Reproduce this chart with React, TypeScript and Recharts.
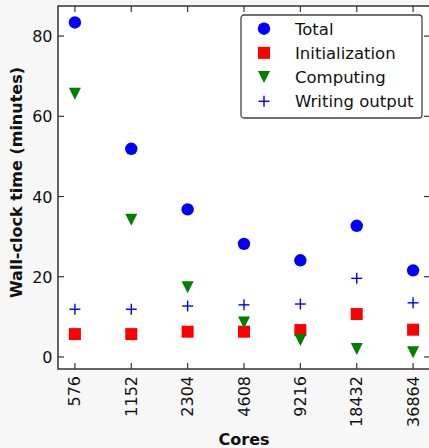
import React from 'react'
import { ComposedChart, Label, Legend, Line, ReferenceArea, XAxis, YAxis } from 'recharts'

const cores = ['576', '1152', '2304', '4608', '9216', '18432', '36864']
const total = [83.4, 51.9, 36.8, 28.2, 24.1, 32.7, 21.6]
const initialization = [5.7, 5.7, 6.3, 6.3, 6.7, 10.7, 6.8]
const computing = [65.6, 34.2, 17.4, 8.6, 4.2, 2.0, 1.2]
const writingOutput = [11.9, 11.9, 12.7, 13.0, 13.2, 19.6, 13.5]
const yTicks = [0, 20, 40, 60, 80]
const xTicks = cores.map((_, i) => i)

const data = cores.map((c, i) => ({
  idx: i,
  cores: c,
  total: total[i],
  initialization: initialization[i],
  computing: computing[i],
  writing: writingOutput[i],
}))

const series = [
  { key: 'total', name: 'Total', kind: 'circle' },
  { key: 'initialization', name: 'Initialization', kind: 'square' },
  { key: 'computing', name: 'Computing', kind: 'triangle' },
  { key: 'writing', name: 'Writing output', kind: 'plus' },
]

const FONT = 'DejaVu Sans, sans-serif'
const AXIS = '#333'
const PLOT_LEFT = 58
const PLOT_RIGHT = 430
const PLOT_TOP = 6
const PLOT_BOTTOM = 369
const X_DOMAIN: [number, number] = [-0.3, 6.3]
const Y_DOMAIN: [number, number] = [-3, 87.5]

function Marker({ kind, cx, cy }: { kind: string; cx: number; cy: number }) {
  if (kind === 'circle') return <circle cx={cx} cy={cy} r={6.2} fill="#0000ff" />
  if (kind === 'square')
    return <rect x={cx - 6} y={cy - 6} width={12} height={12} fill="#ff0000" />
  if (kind === 'triangle')
    return (
      <polygon
        points={`${cx - 6},${cy - 6} ${cx + 6},${cy - 6} ${cx},${cy + 6}`}
        fill="#008000"
      />
    )
  return (
    <g stroke="#0000ff" strokeWidth={1.4}>
      <line x1={cx - 5.5} x2={cx + 5.5} y1={cy} y2={cy} />
      <line x1={cx} x2={cx} y1={cy - 5.5} y2={cy + 5.5} />
    </g>
  )
}

function CoreTick({ x, payload }: any) {
  const ty = 376
  return (
    <g>
      <line x1={x} x2={x} y1={PLOT_BOTTOM} y2={PLOT_BOTTOM - 6} stroke={AXIS} strokeWidth={1.2} />
      <line x1={x} x2={x} y1={PLOT_TOP} y2={PLOT_TOP + 6} stroke={AXIS} strokeWidth={1.2} />
      <text
        x={x}
        y={ty + 5.5}
        transform={`rotate(-90 ${x} ${ty})`}
        textAnchor="end"
        fontSize={16}
        fontFamily={FONT}
        fill="#111"
      >
        {cores[payload.value]}
      </text>
    </g>
  )
}

function MinuteTick({ y, payload }: any) {
  return (
    <g>
      <line x1={PLOT_LEFT} x2={PLOT_LEFT + 6} y1={y} y2={y} stroke={AXIS} strokeWidth={1.2} />
      <line x1={PLOT_RIGHT - 6} x2={PLOT_RIGHT} y1={y} y2={y} stroke={AXIS} strokeWidth={1.2} />
      <text x={52.5} y={y + 6} textAnchor="end" fontSize={16} fontFamily={FONT} fill="#111">
        {payload.value}
      </text>
    </g>
  )
}

function LegendBox() {
  return (
    <svg width={183} height={105} style={{ display: 'block' }}>
      <rect x={1} y={1} width={181} height={103} rx={3} fill="#fff" stroke="#444" strokeWidth={1.3} />
      {series.map((s, i) => {
        const cy = 14.7 + i * 24.2
        return (
          <g key={s.key}>
            <Marker kind={s.kind} cx={24} cy={cy} />
            <text x={55} y={cy + 6} fontSize={16.5} fontFamily={FONT} fill="#111">
              {s.name}
            </text>
          </g>
        )
      })}
    </svg>
  )
}

export default function App() {
  return (
    <div
      style={{
        position: 'fixed',
        left: 0,
        top: 0,
        width: 429,
        height: 448,
        overflow: 'hidden',
        background: '#f7f7f7',
      }}
    >
      <ComposedChart
        width={440}
        height={448}
        data={data}
        margin={{ top: 6, right: 10, bottom: 0, left: 8 }}
      >
        <ReferenceArea
          x1={X_DOMAIN[0]}
          x2={X_DOMAIN[1]}
          y1={Y_DOMAIN[0]}
          y2={Y_DOMAIN[1]}
          fill="#fff"
          fillOpacity={1}
          stroke={AXIS}
          strokeWidth={1.5}
          ifOverflow="visible"
        />
        <XAxis
          dataKey="idx"
          type="number"
          domain={X_DOMAIN}
          ticks={xTicks}
          interval={0}
          height={79}
          axisLine={false}
          tickLine={false}
          tick={<CoreTick />}
        >
          <Label
            content={() => (
              <text
                x={(PLOT_LEFT + PLOT_RIGHT) / 2}
                y={444.5}
                textAnchor="middle"
                fontSize={16}
                fontWeight="bold"
                fontFamily={FONT}
                fill="#111"
              >
                Cores
              </text>
            )}
          />
        </XAxis>
        <YAxis
          type="number"
          domain={Y_DOMAIN}
          ticks={yTicks}
          width={50}
          axisLine={false}
          tickLine={false}
          tick={<MinuteTick />}
        >
          <Label
            content={() => (
              <text
                x={15}
                y={182.5 + 6.5}
                transform="rotate(-90 15 182.5)"
                textAnchor="middle"
                fontSize={16}
                fontWeight="bold"
                fontFamily={FONT}
                fill="#111"
              >
                Wall-clock time (minutes)
              </text>
            )}
          />
        </YAxis>
        <Legend
          layout="vertical"
          align="center"
          verticalAlign="middle"
          content={() => <LegendBox />}
          wrapperStyle={{ position: 'absolute', left: 240, top: 14, width: 183, height: 105 }}
        />
        {series.map((s) => (
          <Line
            key={s.key}
            dataKey={s.key}
            name={s.name}
            stroke="none"
            isAnimationActive={false}
            activeDot={false}
            dot={(p: any) => (
              <Marker key={`${s.key}-${p.index}`} kind={s.kind} cx={p.cx} cy={p.cy} />
            )}
          />
        ))}
      </ComposedChart>
    </div>
  )
}
